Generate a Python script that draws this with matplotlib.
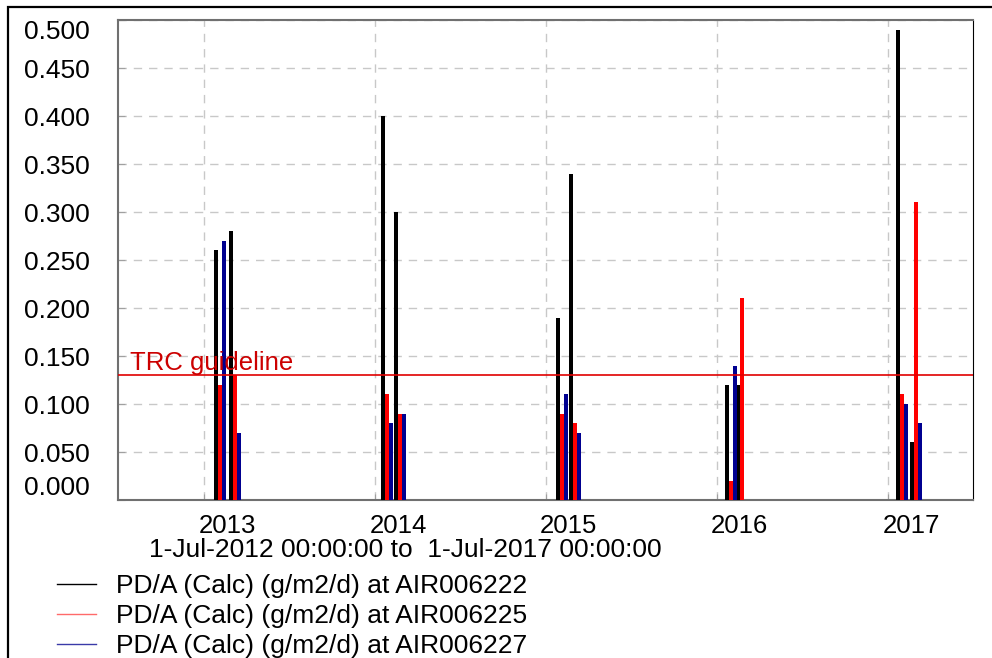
import datetime as dt
import numpy as np
import matplotlib
matplotlib.use("Agg")
import matplotlib.pyplot as plt
import matplotlib.dates as mdates
from matplotlib.lines import Line2D
from matplotlib.patches import Rectangle

# sampling dates (one per survey, three sites side by side)
sample_dates = ["2013-01-23", "2013-02-24",
                "2014-01-14", "2014-02-11",
                "2015-01-22", "2015-02-19",
                "2016-01-19", "2016-02-11",
                "2017-01-18", "2017-02-17"]

air006222 = [0.26, 0.28, 0.40, 0.30, 0.19, 0.34, 0.12, 0.12, 0.49, 0.06]
air006225 = [0.12, 0.13, 0.11, 0.09, 0.09, 0.08, 0.02, 0.21, 0.11, 0.31]
air006227 = [0.27, 0.07, 0.08, 0.09, 0.11, 0.07, 0.14, np.nan, 0.10, 0.08]

series_names = ["PD/A (Calc) (g/m2/d) at AIR006222",
                "PD/A (Calc) (g/m2/d) at AIR006225",
                "PD/A (Calc) (g/m2/d) at AIR006227"]
colors = ["#000000", "#ff0000", "#000090"]
legend_colors = ["#000000", "#ff6a6a", "#3a3aa8"]

guideline = 0.13
years = [2013, 2014, 2015, 2016, 2017]

plt.rcParams["font.family"] = ["Liberation Sans", "DejaVu Sans"]
plt.rcParams["font.size"] = 19

fig = plt.figure(figsize=(9.92, 6.58), dpi=100)
ax = fig.add_axes([118 / 992, 1 - 500 / 658, 855 / 992, 480 / 658])

x = mdates.date2num([dt.datetime.strptime(d, "%Y-%m-%d") for d in sample_dates])
w = 8.5
for i, vals in enumerate([air006222, air006225, air006227]):
    ax.bar(x + i * w, vals, width=w, align="edge", color=colors[i],
           linewidth=0, zorder=3)

ax.axhline(guideline, color="#e00000", lw=1.2, zorder=5)
ax.text(0.014, guideline, "TRC guideline", color="#cc0000", fontsize=18.5,
        transform=ax.get_yaxis_transform(), va="bottom", ha="left", zorder=6)

ax.set_xlim(mdates.date2num(dt.datetime(2012, 7, 1)),
            mdates.date2num(dt.datetime(2017, 7, 1)))
ax.set_ylim(0, 0.5)

# gridlines / tick marks at year starts, labels offset a bit to the right
ax.set_xticks([mdates.date2num(dt.datetime(y, 1, 1)) for y in years])
ax.set_xticklabels([])
ax.set_xticks([mdates.date2num(dt.datetime(y, 1, 1)) + 49 for y in years], minor=True)
ax.set_xticklabels([str(y) for y in years], minor=True, fontsize=18.5)
ax.tick_params(axis="x", which="major", direction="in", length=4, color="#a0a0a0")
ax.tick_params(axis="x", which="minor", length=0, pad=10)

yt = np.arange(0, 0.501, 0.05)
ax.set_yticks(yt)
ax.set_yticklabels(["%.3f" % v for v in yt])
ax.tick_params(axis="y", direction="in", length=5, color="#a0a0a0", pad=20)
ylabels = ax.get_yticklabels()
ylabels[0].set_va("bottom")
ylabels[-1].set_va("top")

ax.grid(True, which="major", color="#c8c8c8", linestyle=(0, (6, 5)), lw=1.0, zorder=0)
ax.set_axisbelow(True)

for s in ["top", "left", "bottom"]:
    ax.spines[s].set_color("#707070")
    ax.spines[s].set_linewidth(1.5)
ax.spines["right"].set_color("#000000")
ax.spines["right"].set_linewidth(0.8)

fig.text(405 / 992, 1 - 550 / 658, "1-Jul-2012 00:00:00 to  1-Jul-2017 00:00:00",
         ha="center", va="center")

handles = [Line2D([], [], color=c, lw=1.0) for c in legend_colors]
fig.legend(handles, series_names, loc="upper left",
           bbox_to_anchor=(57 / 992, 1 - 574 / 658), frameon=False,
           borderpad=0, borderaxespad=0, handlelength=1.48,
           handletextpad=0.76, labelspacing=0.235)

fig.patches.append(Rectangle((8 / 992, -0.1), 1.2, 1 - 7 / 658 + 0.1,
                             transform=fig.transFigure, fill=False,
                             edgecolor="#000000", lw=1.6))

plt.savefig("out.png", dpi=100)
